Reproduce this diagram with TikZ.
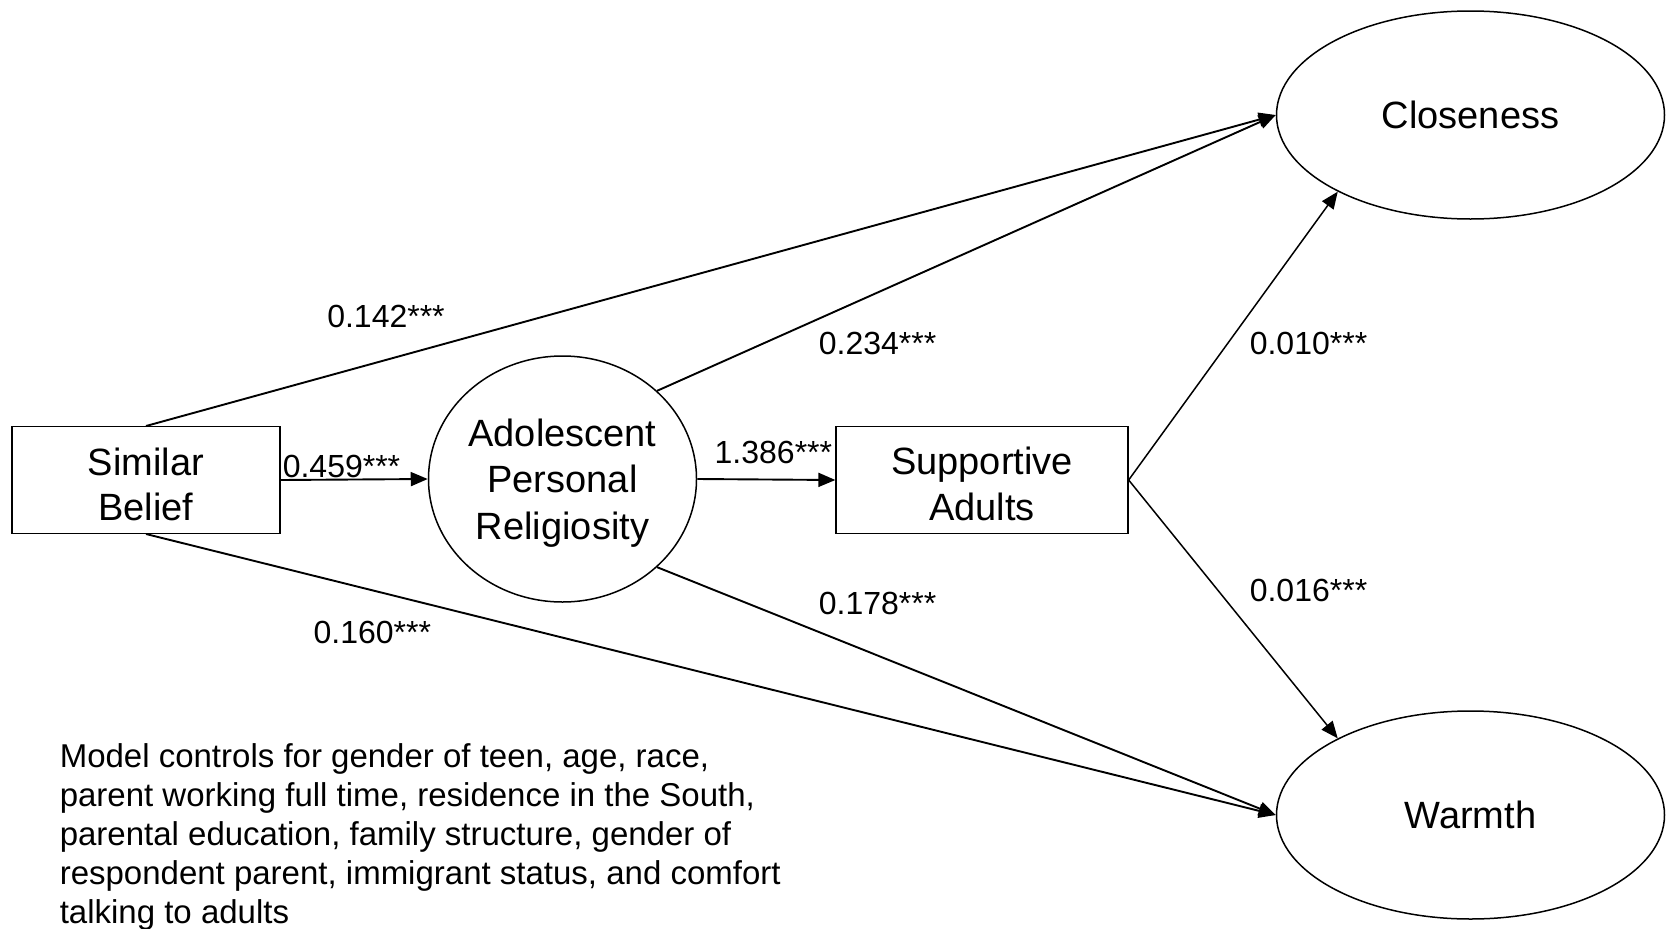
\documentclass[tikz,border=0pt]{standalone}
\usepackage{fontspec}
\setmainfont{Liberation Sans}
\usetikzlibrary{arrows.meta,shapes.geometric}

\tikzset{
  nodefont/.style={font=\fontsize{38}{45.7}\selectfont},
  caption/.style={nodefont, align=center, inner sep=0pt},
  boxnode/.style={draw, line width=1.3pt, rectangle, inner sep=0pt},
  ovalnode/.style={draw, line width=1.5pt, ellipse, inner sep=0pt},
  coef/.style={font=\fontsize{32}{38}\selectfont, inner sep=0pt},
  linkarrow/.style={line width=1.9pt, -{Triangle[length=17pt,width=14pt]}},
  thinarrow/.style={line width=1.5pt, -{Triangle[length=17pt,width=14pt]}},
}

\begin{document}
\begin{tikzpicture}[x=1pt, y=-1pt]
\useasboundingbox (0,0) rectangle (1668,929);

% variables
\node[boxnode, minimum width=268pt, minimum height=106.7pt] (sb) at (146,480) {};
\node[ovalnode, minimum width=268pt, minimum height=246pt] (apr) at (562.5,479) {};
\node[boxnode, minimum width=292pt, minimum height=106.7pt] (sa) at (982,480) {};
\node[ovalnode, minimum width=388pt, minimum height=208pt] (close) at (1470.5,115) {};
\node[ovalnode, minimum width=388pt, minimum height=208pt] (warm) at (1470.5,815) {};

% variable names
\node[caption] (sbname) at ([yshift=-4.5pt]sb.center) {Similar\\Belief};
\node[caption, font=\fontsize{38}{46.3}\selectfont] (aprname) at ([yshift=-4pt]apr.center) {Adolescent\\Personal\\Religiosity};
\node[caption] (saname) at ([yshift=-4pt]sa.center) {Supportive\\Adults};
\node[caption] (closename) at (close.center) {Closeness};
\node[caption] (warmname) at (warm.center) {Warmth};

% paths
\draw[linkarrow] (sb.east) -- (apr.west);
\draw[linkarrow] (apr.east) -- (sa.west);
\draw[linkarrow] (sb.north) -- (close.west);
\draw[linkarrow] (sb.south) -- (warm.west);
\draw[linkarrow] (apr.43) -- (close.west);
\draw[linkarrow] (apr.-43) -- (warm.west);
\draw[thinarrow] (sa.east) -- (close.210);
\draw[thinarrow] (sa.east) -- (warm.150);

% coefficients
\node[coef] (c142) at (386,316) {0.142***};
\node[coef] (c234) at (877.6,343.6) {0.234***};
\node[coef] (c010) at (1308.5,343.6) {0.010***};
\node[coef] (c459) at (341.5,466) {0.459***};
\node[coef] (c386) at (773.4,452) {1.386***};
\node[coef] (c178) at (877.6,603) {0.178***};
\node[coef] (c016) at (1308.5,590.4) {0.016***};
\node[coef] (c160) at (372.3,632) {0.160***};

% note
\node[anchor=west, align=left, inner sep=0pt, font=\fontsize{33}{38.8}\selectfont] (note) at (59.6,837)
  {Model controls for gender of teen, age, race,\\
   parent working full time, residence in the South,\\
   parental education, family structure, gender of\\
   respondent parent, immigrant status, and comfort\\
   talking to adults};
\end{tikzpicture}
\end{document}
